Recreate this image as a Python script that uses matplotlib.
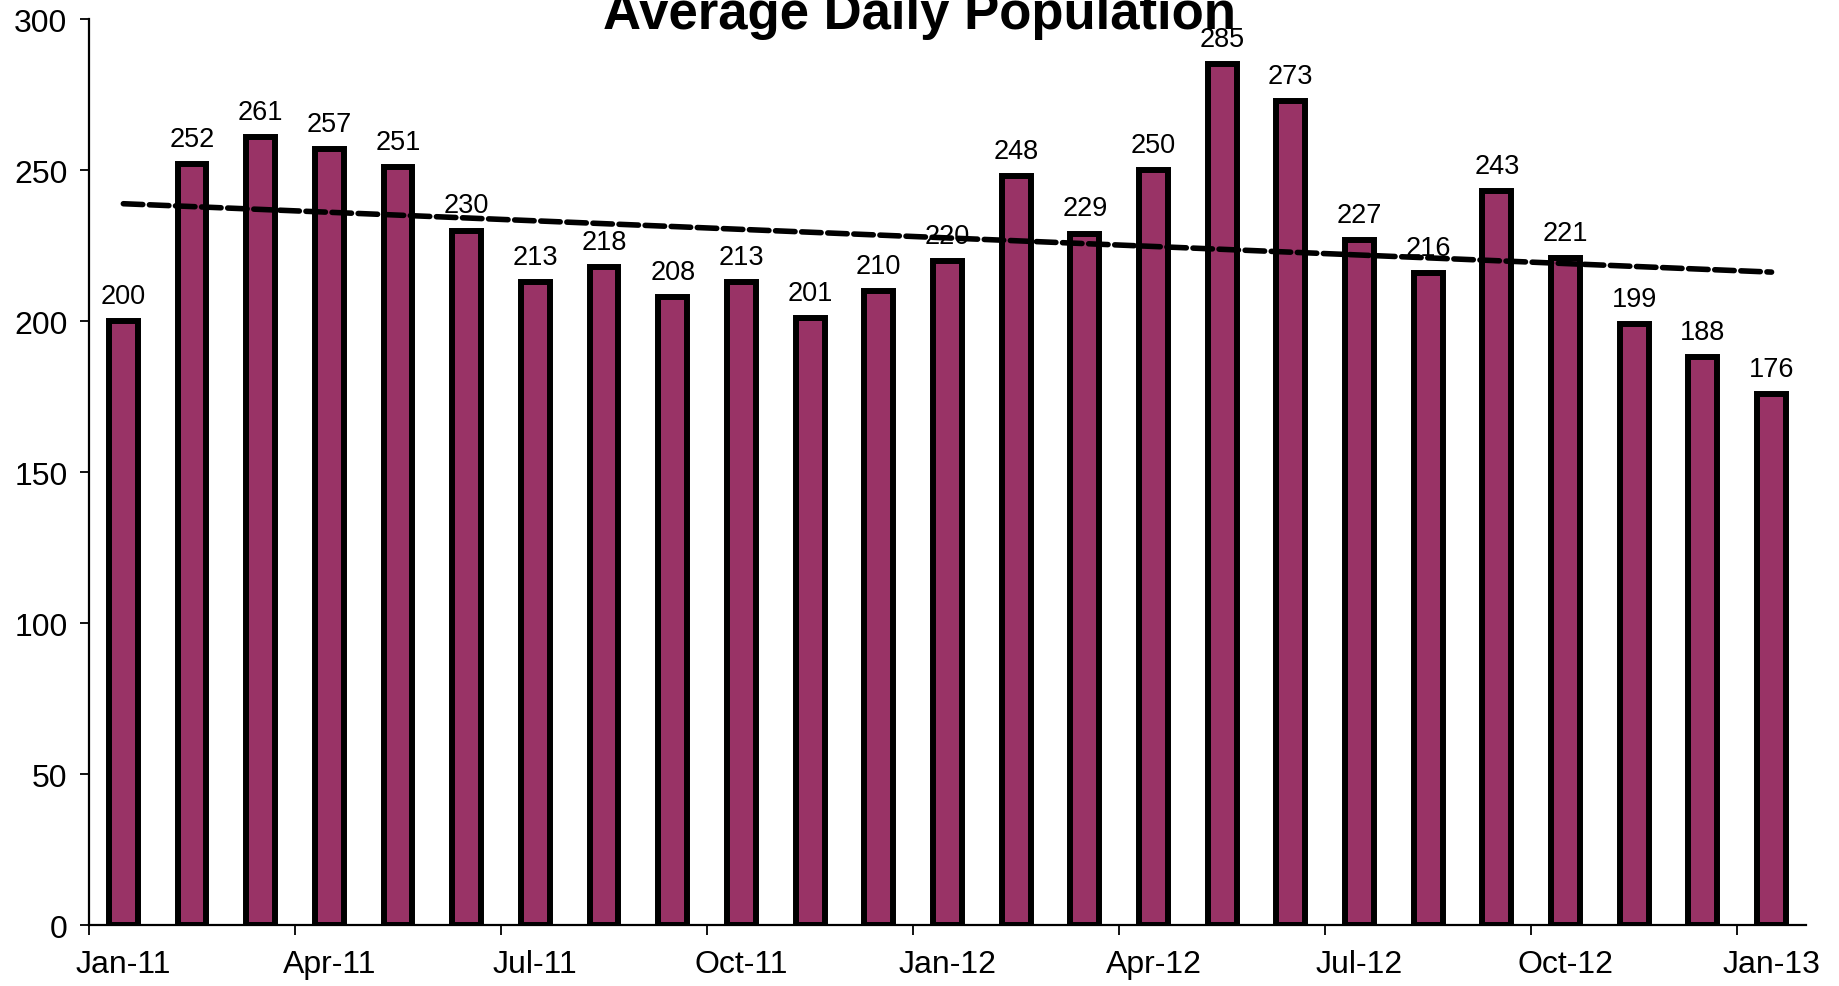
import numpy as np
import matplotlib.pyplot as plt
from matplotlib.ticker import FixedLocator

months = ["Jan-11", "Feb-11", "Mar-11", "Apr-11", "May-11", "Jun-11", "Jul-11",
          "Aug-11", "Sep-11", "Oct-11", "Nov-11", "Dec-11", "Jan-12", "Feb-12",
          "Mar-12", "Apr-12", "May-12", "Jun-12", "Jul-12", "Aug-12", "Sep-12",
          "Oct-12", "Nov-12", "Dec-12", "Jan-13"]
population = [200, 252, 261, 257, 251, 230, 213, 218, 208, 213, 201, 210, 220,
              248, 229, 250, 285, 273, 227, 216, 243, 221, 199, 188, 176]

plt.rcParams['font.family'] = ['Liberation Sans', 'DejaVu Sans']

fig = plt.figure(figsize=(18.39, 9.87), dpi=100)
ax = fig.add_axes([0.0484, 0.0613, 0.9336, 0.9184])

x = np.arange(len(population))
ax.bar(x, population, width=0.42, color='#993366', edgecolor='black',
       linewidth=4.3, zorder=2)

for xi, v in zip(x, population):
    ax.text(xi, v + 4, str(v), ha='center', va='bottom', fontsize=19.5, zorder=4)

# linear trendline like Excel
slope, intercept = np.polyfit(x, population, 1)
ax.plot(x, slope * x + intercept, color='black', linewidth=4,
        linestyle=(0, (3.5, 1.2)), dash_capstyle='round', zorder=3)

ax.set_xlim(-0.5, len(population) - 0.5)
ax.set_ylim(0, 300)
ax.set_yticks(range(0, 301, 50))

# labels at mid-month, tick marks at month boundaries
lab_pos = x[::3]
ax.set_xticks(lab_pos)
ax.set_xticklabels([months[i] for i in lab_pos])
ax.xaxis.set_minor_locator(FixedLocator(lab_pos - 0.5))
ax.tick_params(axis='x', which='major', length=0, pad=17, labelsize=23)
ax.tick_params(axis='x', which='minor', length=7, width=1.3, direction='out')
ax.tick_params(axis='y', length=6.5, width=1.3, direction='out', pad=9, labelsize=23)

for s in ['top', 'right']:
    ax.spines[s].set_visible(False)
for s in ['left', 'bottom']:
    ax.spines[s].set_linewidth(1.6)

fig.text(0.5, 1 - 29 / 987, "Average Daily Population", ha='center', va='baseline',
         fontsize=38, fontweight='bold')

fig.savefig('out.png', dpi=100)
